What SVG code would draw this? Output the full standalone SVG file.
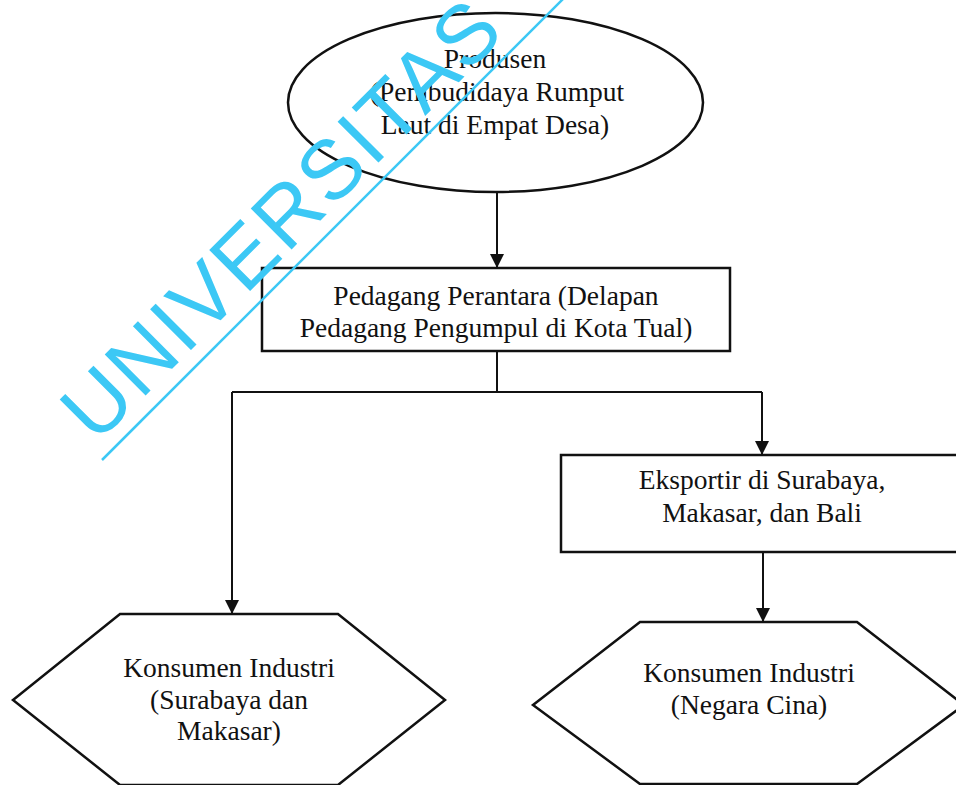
<svg xmlns="http://www.w3.org/2000/svg" width="956" height="785" viewBox="0 0 956 785">
<style>
.shape{fill:none;stroke:#111;stroke-width:2.5}
.lbl{font-family:"Liberation Serif","Times New Roman",serif;font-size:27.5px;fill:#111;text-anchor:middle}
.conn{fill:none;stroke:#111;stroke-width:2}
.wm{fill:#3CC8F5;font-family:"Liberation Sans",Arial,sans-serif;font-size:84px}
</style>
<defs>
<marker id="arr" viewBox="0 0 14 14" refX="14" refY="7" markerWidth="14" markerHeight="14" markerUnits="userSpaceOnUse" orient="auto">
<path d="M0,0 L14,7 L0,14 Z" fill="#111"/>
</marker>
</defs>
<rect width="956" height="785" fill="#fff"/>
<g id="connectors">
<path class="conn" d="M497,192 L497,268" marker-end="url(#arr)"/>
<path class="conn" d="M497,351 L497,392"/>
<path class="conn" d="M232,392 L762,392"/>
<path class="conn" d="M232,392 L232,614" marker-end="url(#arr)"/>
<path class="conn" d="M762,392 L762,455" marker-end="url(#arr)"/>
<path class="conn" d="M763,552 L763,622" marker-end="url(#arr)"/>
</g>
<g id="produsen">
<ellipse class="shape" cx="495.5" cy="102.5" rx="207.5" ry="89.5"/>
<text class="lbl" x="495" y="68">Produsen</text>
<text class="lbl" x="497" y="101">(Pembudidaya Rumput</text>
<text class="lbl" x="495" y="134">Laut di Empat Desa)</text>
</g>
<g id="pedagang">
<rect class="shape" x="262" y="268" width="468" height="83"/>
<text class="lbl" x="496" y="305">Pedagang Perantara (Delapan</text>
<text class="lbl" x="496" y="337">Pedagang Pengumpul di Kota Tual)</text>
</g>
<g id="eksportir">
<rect class="shape" x="561" y="455" width="420" height="97"/>
<text class="lbl" x="762" y="489">Eksportir di Surabaya,</text>
<text class="lbl" x="762" y="522">Makasar, dan Bali</text>
</g>
<g id="konsumen-domestik">
<polygon class="shape" points="120,614 338,614 445,700 338,785 120,785 13,700"/>
<text class="lbl" x="229" y="677">Konsumen Industri</text>
<text class="lbl" x="229" y="709">(Surabaya dan</text>
<text class="lbl" x="229" y="740">Makasar)</text>
</g>
<g id="konsumen-cina">
<polygon class="shape" points="640,622 857,622 964,705 857,784 640,784 533,705"/>
<text class="lbl" x="749" y="682">Konsumen Industri</text>
<text class="lbl" x="749" y="714">(Negara Cina)</text>
</g>
<g id="watermark">
<line x1="102" y1="460" x2="564" y2="-2" stroke="#3CC8F5" stroke-width="2.5"/>
<text class="wm" transform="translate(96,445) rotate(-45)" x="0" y="0" textLength="580" lengthAdjust="spacing">UNIVERSITAS</text>
</g>
</svg>
